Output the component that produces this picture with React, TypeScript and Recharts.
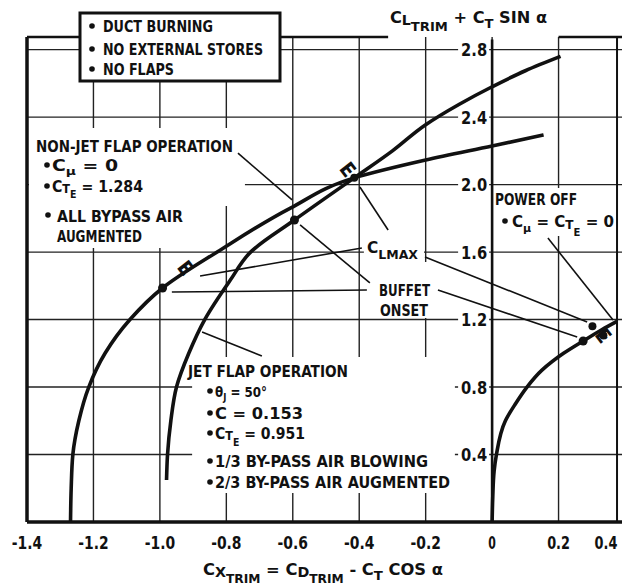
import React from "react";
import {
  LineChart,
  Line,
  XAxis,
  YAxis,
  CartesianGrid,
  ReferenceLine,
  ReferenceDot,
  ReferenceArea,
} from "recharts";

const FONT =
  "'DejaVu Sans Condensed','Liberation Sans Narrow','Arial Narrow','DejaVu Sans',sans-serif";
const INK = "#111";

// ---- axes ----
const xTicks = [-1.4, -1.2, -1.0, -0.8, -0.6, -0.4, -0.2, 0, 0.2, 0.4];
const yGrid = [0, 0.4, 0.8, 1.2, 1.6, 2.0, 2.4, 2.8];
const yLabels = [0.4, 0.8, 1.2, 1.6, 2.0, 2.4, 2.8];

// ---- series (CX, CL+CT sin a) ----
const nonJetX = [-1.269, -1.267, -1.262, -1.244, -1.214, -1.165, -1.09, -0.992, -0.82, -0.607, -0.415, -0.2, 0.0, 0.155];
const nonJetY = [0, 0.2, 0.4, 0.6, 0.8, 1.0, 1.2, 1.387, 1.61, 1.861, 2.04, 2.146, 2.229, 2.294];

const jetX = [-0.98, -0.977, -0.967, -0.95, -0.913, -0.865, -0.788, -0.727, -0.595, -0.415, -0.3, -0.2, -0.1, 0.0, 0.1, 0.206];
const jetY = [0.249, 0.4, 0.6, 0.8, 1.0, 1.2, 1.434, 1.6, 1.79, 2.04, 2.2, 2.355, 2.475, 2.58, 2.675, 2.76];

const powerOffX = [0.0, 0.002, 0.006, 0.013, 0.04, 0.07, 0.105, 0.15, 0.215, 0.274, 0.33, 0.376];
const powerOffY = [0, 0.15, 0.3, 0.4, 0.6, 0.7, 0.8, 0.9, 1.0, 1.073, 1.14, 1.19];

// ---- marked points ----
const buffetX = [-0.992, -0.595, 0.274];
const buffetY = [1.387, 1.79, 1.073];
const clMaxX = [-0.923, -0.434, 0.335];
const clMaxY = [1.506, 2.09, 1.105];
const extraDotX = [-0.415, 0.302, 0.335];
const extraDotY = [2.04, 1.16, 1.105];

// ---- leader lines [x1, y1, x2, y2] ----
const leaders = [
  [-0.765, 2.187, -0.602, 1.909],
  [-0.693, 0.984, -0.873, 1.126],
  [-0.313, 1.731, -0.398, 1.986],
  [-0.392, 1.624, -0.879, 1.458],
  [-0.202, 1.571, 0.286, 1.186],
  [-0.368, 1.417, -0.578, 1.761],
  [-0.377, 1.375, -0.964, 1.363],
  [-0.163, 1.375, 0.256, 1.097],
  [0.168, 1.683, 0.364, 1.197],
];

// ---- white masks behind text blocks [x1, x2, y1, y2] ----
const masks = [
  [-1.394, -0.744, 1.873, 2.335],
  [-1.394, -0.909, 1.624, 1.873],
  [-0.903, -0.112, 0.172, 0.978],
  [0.005, 0.375, 1.695, 1.98],
  [-0.386, -0.205, 1.541, 1.695],
  [-0.349, -0.175, 1.209, 1.541],
];

const toPts = (xs: number[], ys: number[]) => xs.map((x, i) => ({ x, y: ys[i] }));
const nonJet = toPts(nonJetX, nonJetY);
const jet = toPts(jetX, jetY);
const powerOff = toPts(powerOffX, powerOffY);

const fmt = (v: number) => (v === 0 ? "0" : v.toFixed(1));

const XTick = (p: any) => {
  const v = p.payload.value;
  const label = fmt(v);
  const dx = v > 0.39 ? -19 : 0;
  return (
    <text
      x={p.x + dx}
      y={549}
      textAnchor="middle"
      fontFamily={FONT}
      fontWeight={700}
      fontSize={17}
      fill={INK}
      textLength={label.length * 7.6}
      lengthAdjust="spacingAndGlyphs"
    >
      {label}
    </text>
  );
};

const T = ({ x, y, s = 16, w, children }: any) => (
  <text
    x={x}
    y={y}
    fontSize={s}
    textLength={w}
    lengthAdjust={w ? "spacingAndGlyphs" : undefined}
  >
    {children}
  </text>
);

// one flowing text line with sub/superscript pieces: parts = [baselineOffset, size, string]
const R = ({ x, y, w, parts }: any) => {
  let cur = 0;
  return (
    <text x={x} y={y} textLength={w} lengthAdjust="spacingAndGlyphs">
      {parts.map((p: any, i: number) => {
        const dy = p[0] - cur;
        cur = p[0];
        return (
          <tspan key={i} dy={dy} fontSize={p[1]}>
            {p[2]}
          </tspan>
        );
      })}
    </text>
  );
};
const B = ({ x, y }: any) => <circle cx={x} cy={y} r={2.8} fill={INK} />;

function Overlay() {
  return (
    <svg
      width={622}
      height={586}
      style={{ position: "absolute", left: 0, top: 0, pointerEvents: "none" }}
    >
      <g fontFamily={FONT} fontWeight={700} fill={INK}>
        {/* legend box */}
        <rect x={80} y={13} width={200} height={68} fill="#fff" stroke={INK} strokeWidth={3} />
        <B x={92} y={26} />
        <T x={103} y={32} w={110}>DUCT BURNING</T>
        <B x={92} y={49} />
        <T x={103} y={55} w={160}>NO EXTERNAL STORES</T>
        <B x={92} y={69} />
        <T x={103} y={75} w={71}>NO FLAPS</T>

        {/* y title */}
        <R
          x={390}
          y={23}
          w={157}
          parts={[
            [0, 16, "C"],
            [2, 14, "L"],
            [8, 13, "TRIM"],
            [0, 16, " + C"],
            [5, 13, "T"],
            [0, 16, " SIN α"],
          ]}
        />

        {/* x title */}
        <R
          x={203}
          y={575}
          w={240}
          parts={[
            [0, 16, "C"],
            [2, 14, "X"],
            [8, 12, "TRIM"],
            [0, 16, " = C"],
            [2, 14, "D"],
            [8, 12, "TRIM"],
            [0, 16, " - C"],
            [5, 13, "T"],
            [0, 16, " COS α"],
          ]}
        />

        {/* non-jet block */}
        <T x={36} y={152} w={197}>NON-JET FLAP OPERATION</T>
        <B x={47} y={165} />
        <R x={52} y={171} w={66} parts={[[0, 15, "C"], [4, 11, "μ"], [0, 15, " = 0"]]} />
        <B x={47} y={186} />
        <R
          x={52}
          y={192}
          w={91}
          parts={[[0, 15, "C"], [1, 12, "T"], [6, 10, "E"], [0, 15, " = 1.284"]]}
        />
        <B x={48} y={215} />
        <T x={57} y={222} w={126}>ALL BYPASS AIR</T>
        <T x={57} y={242} w={85}>AUGMENTED</T>

        {/* jet flap block */}
        <T x={188} y={377} w={160}>JET FLAP OPERATION</T>
        <B x={210} y={391} />
        <R x={215} y={397} w={52} parts={[[0, 14, "θ"], [4, 10, "J"], [0, 14, " = 50°"]]} />
        <B x={210} y={413} />
        <R x={215} y={419} w={88} parts={[[0, 15, "C = 0.153"]]} />
        <B x={210} y={433} />
        <R
          x={215}
          y={439}
          w={90}
          parts={[[0, 15, "C"], [1, 12, "T"], [7, 10, "E"], [0, 15, " = 0.951"]]}
        />
        <B x={210} y={461} />
        <T x={215} y={467} w={213}>1/3 BY-PASS AIR BLOWING</T>
        <B x={210} y={482} />
        <T x={215} y={488} w={235}>2/3 BY-PASS AIR AUGMENTED</T>

        {/* power off block */}
        <T x={495} y={205} w={82}>POWER OFF</T>
        <B x={505} y={221} />
        <R
          x={512}
          y={227}
          w={102}
          parts={[
            [0, 15, "C"],
            [5, 11, "μ"],
            [0, 15, " = C"],
            [2, 12, "T"],
            [9, 10, "E"],
            [0, 15, " = 0"],
          ]}
        />

        {/* CLmax / buffet labels */}
        <R x={367} y={253} w={51} parts={[[0, 16, "C"], [6, 13, "LMAX"]]} />
        <T x={379} y={296} w={51}>BUFFET</T>
        <T x={380} y={316} w={48}>ONSET</T>
      </g>
    </svg>
  );
}

export default function App() {
  const top = 2.875;
  return (
    <div
      style={{
        position: "absolute",
        left: 0,
        top: 0,
        width: 622,
        height: 586,
        overflow: "hidden",
        background: "#fff",
      }}
    >
      <LineChart width={626} height={586} margin={{ top: 37, right: 1, bottom: 34, left: 27 }}>
        <CartesianGrid
          stroke="#222"
          strokeWidth={1.4}
          verticalValues={xTicks}
          horizontalValues={yGrid}
        />
        <XAxis
          type="number"
          dataKey="x"
          domain={[-1.4, 0.4]}
          ticks={xTicks}
          interval={0}
          allowDataOverflow
          height={30}
          axisLine={{ stroke: INK, strokeWidth: 3.5 }}
          tickLine={false}
          tick={(p: any) => <XTick {...p} />}
        />
        <YAxis type="number" dataKey="y" domain={[0, top]} ticks={yGrid} hide allowDataOverflow />

        {masks.map((m, i) => (
          <ReferenceArea
            key={"m" + i}
            x1={m[0]}
            x2={m[1]}
            y1={m[2]}
            y2={m[3]}
            fill="#fff"
            fillOpacity={1}
            stroke="none"
            ifOverflow="visible"
          />
        ))}

        <Line data={nonJet} dataKey="y" type="monotoneY" stroke={INK} strokeWidth={3.6} dot={false} isAnimationActive={false} />
        <Line data={jet} dataKey="y" type="monotoneY" stroke={INK} strokeWidth={3.6} dot={false} isAnimationActive={false} />
        <Line data={powerOff} dataKey="y" type="monotoneY" stroke={INK} strokeWidth={3.6} dot={false} isAnimationActive={false} />

        {/* frame */}
        <ReferenceLine x={-1.4} stroke={INK} strokeWidth={3.5} ifOverflow="visible" />
        <ReferenceLine x={0.376} stroke={INK} strokeWidth={2} ifOverflow="visible" />
        <ReferenceLine
          segment={[{ x: -1.4, y: top }, { x: -0.313, y: top }]}
          stroke={INK}
          strokeWidth={2.5}
          ifOverflow="visible"
        />
        <ReferenceLine
          segment={[{ x: 0.2, y: top }, { x: 0.4, y: top }]}
          stroke={INK}
          strokeWidth={2.5}
          ifOverflow="visible"
        />
        <ReferenceLine
          segment={[{ x: 0, y: 0 }, { x: 0, y: 2.86 }]}
          stroke={INK}
          strokeWidth={2.6}
          ifOverflow="visible"
        />

        {leaders.map((l, i) => (
          <ReferenceLine
            key={"l" + i}
            segment={[{ x: l[0], y: l[1] }, { x: l[2], y: l[3] }]}
            stroke={INK}
            strokeWidth={1.6}
            ifOverflow="visible"
          />
        ))}

        {yLabels.map((v) => (
          <ReferenceDot
            key={"yl" + v}
            x={0}
            y={v}
            r={0}
            ifOverflow="visible"
            shape={(p: any) => (
              <g>
                <rect x={p.cx - 34} y={p.cy - 9} width={31} height={18} fill="#fff" />
                <text
                  x={p.cx - 5}
                  y={p.cy + 6.5}
                  textAnchor="end"
                  fontFamily={FONT}
                  fontWeight={700}
                  fontSize={17}
                  fill={INK}
                  textLength={26}
                  lengthAdjust="spacingAndGlyphs"
                >
                  {v.toFixed(1)}
                </text>
              </g>
            )}
          />
        ))}

        {buffetX.map((x, i) => (
          <ReferenceDot key={"b" + i} x={x} y={buffetY[i]} r={4.5} fill={INK} stroke="none" />
        ))}
        {extraDotX.map((x, i) => (
          <ReferenceDot key={"d" + i} x={x} y={extraDotY[i]} r={4} fill={INK} stroke="none" />
        ))}
        {clMaxX.map((x, i) => (
          <ReferenceDot
            key={"e" + i}
            x={x}
            y={clMaxY[i]}
            r={0}
            shape={(p: any) => (
              <text
                x={p.cx}
                y={p.cy}
                transform={`rotate(52 ${p.cx} ${p.cy})`}
                textAnchor="middle"
                dominantBaseline="central"
                fontFamily={FONT}
                fontWeight={700}
                fontSize={20}
                fill={INK}
              >
                E
              </text>
            )}
          />
        ))}
      </LineChart>
      <Overlay />
    </div>
  );
}
